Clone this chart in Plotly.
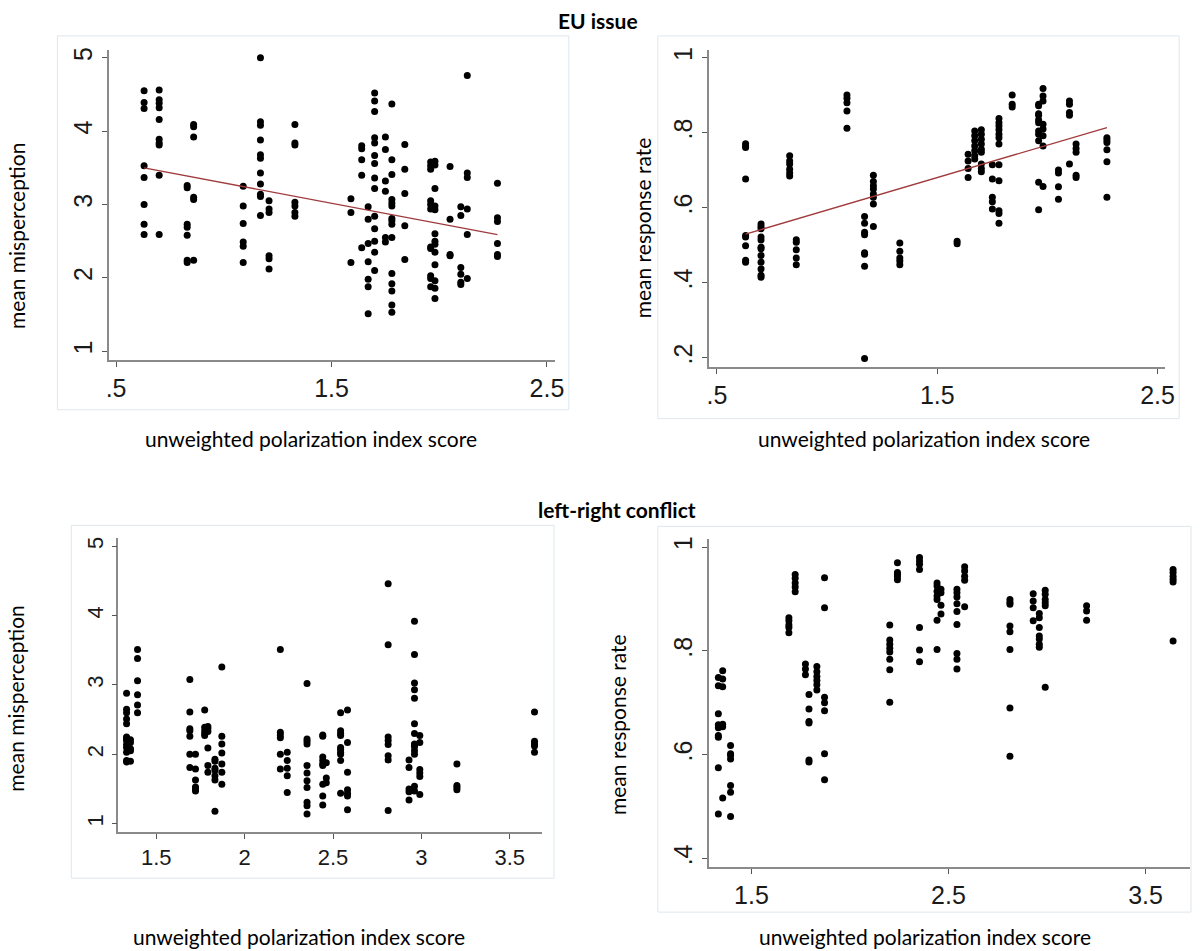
import plotly.graph_objects as go
import numpy as np

W, H = 1203, 951

# ---------------- data: EU issue ----------------
eu_x = [0.63, 0.70, 0.83, 0.86, 1.09, 1.17, 1.21, 1.33, 1.59, 1.64, 1.67,
        1.70, 1.75, 1.78, 1.84, 1.96, 1.98, 2.05, 2.10, 2.13, 2.27]

eu_misperception = [
    [4.55, 4.39, 4.31, 3.53, 3.37, 3.00, 2.73, 2.59],
    [4.56, 4.43, 4.38, 4.32, 4.16, 3.89, 3.84, 3.81, 3.40, 2.59],
    [3.26, 3.23, 2.73, 2.69, 2.58, 2.24, 2.21],
    [4.09, 4.06, 3.92, 3.10, 3.07, 2.24],
    [3.25, 2.98, 2.74, 2.49, 2.43, 2.21],
    [5.00, 4.13, 4.08, 3.88, 3.68, 3.63, 3.43, 3.28, 3.14, 3.11, 2.85],
    [3.05, 2.94, 2.89, 2.30, 2.26, 2.12],
    [4.09, 3.84, 3.81, 3.03, 2.98, 2.89, 2.84],
    [3.08, 2.89, 2.21],
    [3.80, 3.76, 3.61, 3.40, 2.41],
    [2.97, 2.80, 2.47, 2.22, 1.98, 1.88, 1.51],
    [4.52, 4.41, 4.27, 3.91, 3.84, 3.67, 3.56, 3.36, 3.22, 2.84, 2.67, 2.50, 2.35, 2.10],
    [3.92, 3.75, 3.32, 3.18, 2.55, 2.49],
    [4.37, 3.61, 3.41, 3.07, 3.02, 2.98, 2.81, 2.78, 2.73, 2.55, 2.06, 1.92, 1.82, 1.63, 1.53],
    [3.82, 3.48, 3.15, 2.71, 2.25],
    [3.58, 3.53, 3.48, 3.05, 3.00, 2.94, 2.42, 2.40, 2.03, 1.99, 1.88],
    [3.59, 3.54, 3.22, 2.98, 2.93, 2.60, 2.50, 2.46, 2.35, 2.18, 1.96, 1.86, 1.72],
    [3.52, 2.80, 2.32, 2.30],
    [2.97, 2.85, 2.14, 2.05, 1.94, 1.91],
    [4.76, 3.43, 3.37, 2.94, 2.59, 1.99],
    [3.29, 2.82, 2.77, 2.47, 2.32, 2.29],
]

eu_response = [
    [0.771, 0.765, 0.761, 0.677, 0.526, 0.522, 0.499, 0.460, 0.455],
    [0.557, 0.550, 0.544, 0.522, 0.514, 0.495, 0.491, 0.473, 0.455, 0.437, 0.420, 0.415],
    [0.739, 0.725, 0.717, 0.703, 0.693, 0.685],
    [0.515, 0.508, 0.488, 0.466, 0.448],
    [0.901, 0.892, 0.880, 0.858, 0.812],
    [0.577, 0.559, 0.535, 0.528, 0.480, 0.476, 0.444, 0.198],
    [0.687, 0.670, 0.659, 0.650, 0.637, 0.628, 0.610, 0.550],
    [0.506, 0.484, 0.466, 0.458, 0.448],
    [0.511, 0.504],
    [0.743, 0.725, 0.705, 0.681],
    [0.805, 0.792, 0.779, 0.765, 0.752, 0.739, 0.730],
    [0.808, 0.796, 0.783, 0.770, 0.756, 0.748, 0.717, 0.705, 0.696],
    [0.715, 0.677, 0.628, 0.616, 0.597],
    [0.838, 0.827, 0.818, 0.808, 0.796, 0.787, 0.770, 0.715, 0.672, 0.592, 0.585, 0.559],
    [0.901, 0.876, 0.869],
    [0.876, 0.872, 0.851, 0.847, 0.834, 0.827, 0.805, 0.796, 0.779, 0.668, 0.595],
    [0.918, 0.898, 0.885, 0.823, 0.810, 0.792, 0.765, 0.657],
    [0.701, 0.693, 0.656, 0.623],
    [0.885, 0.876, 0.854, 0.847, 0.717],
    [0.770, 0.758, 0.748, 0.687, 0.681],
    [0.787, 0.781, 0.774, 0.755, 0.723, 0.628],
]

# linear fit lines (value at the min and max polarization score)
eu_mis_fit_ends = [3.50, 2.59]
eu_resp_fit_ends = [0.530, 0.814]

# ---------------- data: left-right conflict ----------------
lr_x = [1.332, 1.354, 1.394, 1.690, 1.722, 1.774, 1.792, 1.832, 1.871, 2.202, 2.241,
        2.353, 2.442, 2.462, 2.543, 2.582, 2.812, 2.930, 2.961, 2.991, 3.201, 3.640]

lr_misperception = [
    [2.88, 2.65, 2.60, 2.51, 2.44, 2.25, 2.22, 2.20, 2.14, 2.10, 2.03, 1.91, 1.89],
    [2.21, 2.17, 2.08, 2.05, 1.90],
    [3.51, 3.38, 3.06, 2.86, 2.71, 2.60],
    [3.08, 2.61, 2.37, 2.34, 2.26, 2.00, 1.81],
    [2.00, 1.79, 1.63, 1.53, 1.50, 1.47],
    [2.64, 2.39, 2.34, 2.30, 2.27],
    [2.40, 2.37, 2.33, 2.09, 1.84, 1.74],
    [1.93, 1.90, 1.80, 1.77, 1.69, 1.63, 1.18],
    [3.26, 2.26, 2.15, 2.02, 1.86, 1.74, 1.57],
    [3.51, 2.32, 2.28, 2.24, 2.00, 1.79],
    [2.03, 1.91, 1.80, 1.69, 1.45],
    [3.02, 2.22, 2.19, 2.15, 1.84, 1.73, 1.62, 1.52, 1.31, 1.26, 1.14],
    [2.28, 2.26, 1.96, 1.91, 1.86, 1.84, 1.57, 1.40, 1.27],
    [1.88, 1.66, 1.59],
    [2.60, 2.34, 2.30, 2.27, 2.10, 2.07, 2.03, 2.00, 1.91, 1.44],
    [2.64, 2.17, 1.74, 1.49, 1.44, 1.40, 1.20],
    [4.46, 3.58, 2.25, 2.20, 2.14, 1.98, 1.92, 1.19],
    [1.92, 1.81, 1.50, 1.46, 1.34],
    [3.92, 3.44, 3.03, 2.93, 2.81, 2.44, 2.30, 2.15, 2.13, 2.11, 2.05, 2.00, 1.54, 1.47],
    [2.27, 2.17, 1.78, 1.73, 1.68, 1.42],
    [1.86, 1.55, 1.52, 1.49],
    [2.61, 2.19, 2.15, 2.12, 2.03],
]

lr_response = [
    [0.749, 0.733, 0.679, 0.658, 0.652, 0.637, 0.634, 0.575, 0.486],
    [0.762, 0.746, 0.731, 0.659, 0.654, 0.517],
    [0.618, 0.602, 0.599, 0.592, 0.541, 0.528, 0.481],
    [0.864, 0.858, 0.850, 0.845, 0.835],
    [0.947, 0.940, 0.931, 0.923, 0.914],
    [0.775, 0.765, 0.754],
    [0.716, 0.688, 0.664, 0.661, 0.590, 0.586],
    [0.770, 0.760, 0.751, 0.743, 0.735, 0.725],
    [0.941, 0.883, 0.711, 0.700, 0.685, 0.602, 0.552],
    [0.850, 0.821, 0.813, 0.805, 0.798, 0.784, 0.764, 0.701],
    [0.970, 0.951, 0.947, 0.943, 0.937],
    [0.980, 0.973, 0.967, 0.957, 0.845, 0.802, 0.779],
    [0.931, 0.925, 0.915, 0.906, 0.899, 0.859, 0.803],
    [0.919, 0.912, 0.888, 0.871],
    [0.919, 0.912, 0.904, 0.891, 0.876, 0.851, 0.795, 0.784, 0.765],
    [0.962, 0.954, 0.944, 0.936, 0.885],
    [0.899, 0.894, 0.890, 0.848, 0.837, 0.803, 0.690, 0.597],
    [0.910, 0.896, 0.883, 0.858],
    [0.872, 0.864, 0.845, 0.829, 0.823, 0.813, 0.807],
    [0.917, 0.909, 0.899, 0.893, 0.887, 0.730],
    [0.887, 0.877, 0.859],
    [0.957, 0.951, 0.944, 0.938, 0.933, 0.819],
]

titles = ["EU issue", "left-right conflict"]
xtitle = "unweighted polarization index score"
ytitle_mis = "mean misperception"
ytitle_resp = "mean response rate"


def expand(xs, groups):
    px, py = [], []
    for x, ys in zip(xs, groups):
        px += [x] * len(ys)
        py += ys
    return np.array(px), np.array(py)


fig = go.Figure()

MARK = dict(color="black", size=7, line=dict(width=0))
FIT = dict(color="#a03a3c", width=1.4)

panels = [
    (eu_x, eu_misperception, "x", "y", eu_mis_fit_ends),
    (eu_x, eu_response, "x2", "y2", eu_resp_fit_ends),
    (lr_x, lr_misperception, "x3", "y3", None),
    (lr_x, lr_response, "x4", "y4", None),
]
for xs, groups, xa, ya, fit in panels:
    px, py = expand(xs, groups)
    fig.add_trace(go.Scatter(x=px, y=py, mode="markers", marker=MARK,
                             xaxis=xa, yaxis=ya, showlegend=False, hoverinfo="x+y"))
    if fit is not None:
        fig.add_trace(go.Scatter(x=[min(xs), max(xs)], y=fit, mode="lines", line=FIT,
                                 xaxis=xa, yaxis=ya, showlegend=False, hoverinfo="skip"))


def fx_(p):
    return p / W


def fy_(p):
    return 1 - p / H


TICKFONT = "Liberation Sans, Arial, sans-serif"
AX = dict(showline=True, linecolor="#8a8a8a", linewidth=1.6, ticks="outside",
          ticklen=5, tickwidth=1.2, tickcolor="#555555", showgrid=False,
          zeroline=False, mirror=False, fixedrange=True)


def xax(dom, rng, vals, text, anchor, fs):
    return dict(AX, domain=[fx_(dom[0]), fx_(dom[1])], range=rng, tickvals=vals,
                ticktext=text, anchor=anchor, tickfont=dict(family=TICKFONT, size=fs, color="#1a1a1a"))


def yax(dom, rng, vals, text, anchor, fs):
    return dict(AX, domain=[fy_(dom[1]), fy_(dom[0])], range=rng, tickvals=vals,
                ticktext=text, anchor=anchor, tickangle=-90,
                tickfont=dict(family=TICKFONT, size=fs, color="#1a1a1a"))


fig.update_layout(
    width=W, height=H, autosize=False,
    margin=dict(l=0, r=0, t=0, b=0),
    paper_bgcolor="white", plot_bgcolor="white",
    xaxis=xax((106.7, 558), [0.465, 2.537], [0.5, 1.5, 2.5], [".5", "1.5", "2.5"], "y", 25),
    yaxis=yax((46.7, 358), [0.882, 5.113], [1, 2, 3, 4, 5], ["1", "2", "3", "4", "5"], "x", 25),
    xaxis2=xax((713.3, 1175), [0.462, 2.535], [0.5, 1.5, 2.5], [".5", "1.5", "2.5"], "y2", 25),
    yaxis2=yax((46.7, 365), [0.176, 1.022], [0.2, 0.4, 0.6, 0.8, 1.0], [".2", ".4", ".6", ".8", "1"], "x2", 25),
    xaxis3=xax((116.7, 545), [1.286, 3.683], [1.5, 2, 2.5, 3, 3.5], ["1.5", "2", "2.5", "3", "3.5"], "y3", 22),
    yaxis3=yax((536.7, 831.7), [0.879, 5.119], [1, 2, 3, 4, 5], ["1", "2", "3", "4", "5"], "x3", 22),
    xaxis4=xax((714, 1200), [1.286, 3.726], [1.5, 2.5, 3.5], ["1.5", "2.5", "3.5"], "y4", 25),
    yaxis4=yax((538, 866.7), [0.384, 1.015], [0.4, 0.6, 0.8, 1.0], [".4", ".6", ".8", "1"], "x4", 25),
)

# faint frames around each graph image
frames = [(55, 33, 572, 408), (662, 33, 1189, 417), (69, 524, 557, 878), (662, 525, 1201, 912)]
for x0, y0, x1, y1 in frames:
    fig.add_shape(type="rect", xref="paper", yref="paper",
                  x0=fx_(x0), x1=fx_(x1), y0=fy_(y1), y1=fy_(y0),
                  line=dict(color="#dde7ec", width=1), fillcolor="rgba(0,0,0,0)", layer="below")

LBL = "Lato, Calibri, Noto Sans, sans-serif"
ann = []
ann.append(dict(text="<b>%s</b>" % titles[0], x=fx_(601), y=fy_(18), size=21))
ann.append(dict(text="<b>%s</b>" % titles[1], x=fx_(621), y=fy_(508), size=21))
ann.append(dict(text=xtitle, x=fx_(311), y=fy_(437), size=21))
ann.append(dict(text=xtitle, x=fx_(931), y=fy_(437), size=21))
ann.append(dict(text=xtitle, x=fx_(299), y=fy_(936), size=21))
ann.append(dict(text=xtitle, x=fx_(932), y=fy_(936), size=21))
ann.append(dict(text=ytitle_mis, x=fx_(13), y=fy_(233), textangle=-90, size=21))
ann.append(dict(text=ytitle_resp, x=fx_(646), y=fy_(226), textangle=-90, size=21))
ann.append(dict(text=ytitle_mis, x=fx_(13), y=fy_(697), textangle=-90, size=21))
ann.append(dict(text=ytitle_resp, x=fx_(621), y=fy_(724), textangle=-90, size=21))
for a in ann:
    s = a.pop("size")
    a.update(xref="paper", yref="paper", showarrow=False, xanchor="center", yanchor="middle",
             font=dict(family=LBL, size=s, color="black"))
    fig.add_annotation(**a)

fig.write_html("out.html")
